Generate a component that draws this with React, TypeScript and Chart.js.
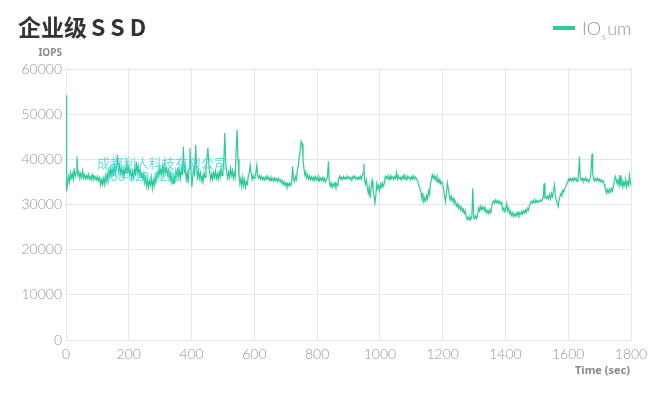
import React, { useEffect, useRef } from 'react';
import { Chart, registerables } from 'chart.js';

Chart.register(...registerables);

const chartTitle = '企业级SSD';
const seriesName = 'IOsum';
const yAxisLabel = 'IOPS';
const xAxisLabel = 'Time (sec)';
const watermarkLine1 = '成都利人科技有限公司';
const watermarkLine2 = '400-028-1255';

const xTickValues = [0, 200, 400, 600, 800, 1000, 1200, 1400, 1600, 1800];
const yTickValues = [0, 10000, 20000, 30000, 40000, 50000, 60000];

const timeSec = [
  0, 2, 5, 8, 11, 14, 17, 20, 23, 26, 29, 32, 35, 38, 41, 44, 47, 50, 53, 56, 59, 62, 65, 68, 71, 74, 77, 80, 83, 86, 89, 92, 95, 98,
  101, 104, 107, 110, 113, 116, 119, 122, 125, 128, 131, 134, 137, 140, 143, 146, 149, 152, 155, 158, 161, 164, 167, 170, 173, 176, 179, 182, 185, 188, 191, 194, 197,
  200, 203, 206, 209, 212, 215, 218, 221, 224, 227, 230, 233, 236, 239, 242, 245, 248, 251, 254, 257, 260, 263, 266, 269, 272, 275, 278, 281, 284, 287, 290, 293, 296, 299,
  302, 305, 308, 311, 314, 317, 320, 323, 326, 329, 332, 335, 338, 341, 344, 347, 350, 353, 356, 359, 362, 365, 368, 371, 374, 377, 380, 383, 386, 389, 392, 395, 398,
  401, 404, 407, 410, 413, 416, 419, 422, 425, 428, 431, 434, 437, 440, 443, 446, 449, 452, 455, 458, 461, 464, 467, 470, 473, 476, 479, 482, 485, 488, 491, 494, 497,
  500, 503, 506, 509, 512, 515, 518, 521, 524, 527, 530, 533, 536, 539, 542, 545, 548, 551, 554, 557, 560, 563, 566, 569, 572, 575, 578, 581, 584, 587, 590, 593, 596, 599,
  602, 605, 608, 611, 614, 617, 620, 623, 626, 629, 632, 635, 638, 641, 644, 647, 650, 653, 656, 659, 662, 665, 668, 671, 674, 677, 680, 683, 686, 689, 692, 695, 698,
  701, 704, 707, 710, 713, 716, 719, 722, 725, 728, 731, 734, 737, 740, 743, 746, 749, 752, 755, 758, 761, 764, 767, 770, 773, 776, 779, 782, 785, 788, 791, 794, 797,
  800, 803, 806, 809, 812, 815, 818, 821, 824, 827, 830, 833, 836, 839, 842, 845, 848, 851, 854, 857, 860, 863, 866, 869, 872, 875, 878, 881, 884, 887, 890, 893, 896, 899,
  902, 905, 908, 911, 914, 917, 920, 923, 926, 929, 932, 935, 938, 941, 944, 947, 949, 951, 954, 957, 960, 963, 966, 969, 972, 975, 978, 981, 984, 987, 990, 993, 996, 999,
  1002, 1005, 1008, 1011, 1014, 1017, 1020, 1023, 1026, 1029, 1032, 1035, 1038, 1041, 1044, 1047, 1050, 1053, 1056, 1059, 1062, 1065, 1068, 1071, 1074, 1077, 1080, 1083, 1086, 1089, 1092, 1095, 1098,
  1101, 1104, 1107, 1110, 1113, 1116, 1119, 1122, 1125, 1128, 1131, 1134, 1137, 1140, 1143, 1146, 1149, 1152, 1155, 1158, 1161, 1164, 1167, 1170, 1173, 1176, 1179, 1182, 1185, 1188, 1191, 1194, 1197,
  1200, 1203, 1206, 1209, 1212, 1215, 1218, 1221, 1224, 1227, 1230, 1233, 1236, 1239, 1242, 1245, 1248, 1251, 1254, 1257, 1260, 1263, 1266, 1269, 1272, 1275, 1278, 1281, 1284, 1287, 1290, 1293, 1296, 1299,
  1302, 1305, 1308, 1311, 1314, 1317, 1320, 1323, 1326, 1329, 1332, 1335, 1338, 1341, 1344, 1347, 1350, 1353, 1356, 1359, 1362, 1365, 1368, 1371, 1374, 1377, 1380, 1383, 1386, 1389, 1392, 1395, 1398,
  1401, 1404, 1407, 1410, 1413, 1416, 1419, 1422, 1425, 1428, 1431, 1434, 1437, 1440, 1443, 1446, 1449, 1452, 1455, 1458, 1461, 1464, 1467, 1470, 1473, 1476, 1479, 1482, 1485, 1488, 1491, 1494, 1497,
  1500, 1503, 1506, 1509, 1512, 1515, 1518, 1521, 1523, 1526, 1529, 1532, 1535, 1538, 1541, 1544, 1547, 1550, 1553, 1556, 1559, 1562, 1565, 1568, 1571, 1574, 1577, 1580, 1583, 1586, 1589, 1592, 1595, 1598,
  1601, 1604, 1607, 1610, 1613, 1616, 1619, 1622, 1625, 1628, 1631, 1634, 1636, 1638, 1641, 1644, 1647, 1650, 1653, 1656, 1659, 1662, 1665, 1668, 1671, 1674, 1676, 1678, 1681, 1684, 1687, 1690, 1693, 1696, 1699,
  1702, 1705, 1708, 1711, 1714, 1717, 1720, 1723, 1726, 1729, 1732, 1735, 1738, 1741, 1744, 1747, 1750, 1753, 1756, 1759, 1762, 1765, 1768, 1771, 1774, 1777, 1780, 1783, 1786, 1789, 1792, 1795, 1798, 1800,
];

const iops = [
  54200, 33000, 34500, 36200, 35000, 37000, 35800, 36800, 35500, 38000, 36200, 37000, 40600, 36500, 37200, 35800, 36900, 36000, 37500, 35900, 36600, 35700, 36400, 35800, 36700, 35600, 36200, 35500, 36600, 35800, 36300, 35600, 36100, 35400,
  36200, 35300, 35900, 34300, 35500, 34500, 35800, 34400, 36300, 35000, 36800, 35200, 37500, 36000, 38200, 36500, 37800, 36200, 39200, 37000, 38500, 41000, 37500, 38800, 36800, 38200, 36500, 37800, 36200, 38000, 36800, 39000, 37200,
  38400, 36500, 37500, 35800, 37300, 36000, 38000, 36400, 39500, 37000, 38500, 36500, 37800, 36000, 37200, 35500, 36800, 34800, 36000, 34000, 35500, 33800, 35200, 34400, 36000, 33600, 35400, 34200, 36300, 35000, 37000, 36200, 38000, 36600,
  37800, 36400, 38500, 36800, 39000, 37200, 38000, 36500, 37600, 35800, 37000, 35000, 36500, 34600, 36200, 35200, 37400, 36000, 38200, 36200, 37500, 35800, 38000, 36500, 42800, 37000, 38500, 35500, 37000, 34800, 38000, 42500, 37500,
  33900, 36500, 38500, 36200, 43200, 38000, 36000, 37500, 35800, 37000, 35200, 36300, 35000, 37000, 36000, 38500, 40000, 42500, 39000, 37000, 35500, 36800, 35600, 37000, 36000, 37400, 35800, 36800, 35600, 37200, 36000, 38000, 36400,
  37500, 40000, 45800, 39000, 37000, 35800, 37200, 36000, 38000, 36400, 37500, 35800, 37000, 36000, 42000, 46500, 40000, 36500, 34500, 35800, 34000, 36000, 34200, 35500, 33800, 35000, 34500, 36500, 37000, 38700, 36800, 35500, 36500, 35800,
  36200, 37000, 38700, 36200, 35800, 36400, 35600, 36200, 35500, 36000, 35400, 36100, 35600, 36300, 35500, 35900, 35300, 36000, 35400, 35800, 35200, 35900, 35300, 35700, 35100, 35800, 35200, 35500, 34800, 35300, 34400, 35000, 34200,
  34800, 34000, 34600, 34100, 34700, 34200, 35000, 38400, 35500, 35000, 36200, 35500, 37500, 38500, 40500, 42000, 44000, 43500, 40000, 38000, 36500, 37200, 35800, 36500, 35600, 36300, 35500, 36100, 35400, 36000, 35300, 36200, 35500,
  36000, 35200, 36100, 35400, 35900, 35300, 36000, 35200, 35800, 35000, 35600, 36000, 39500, 35000, 34000, 34800, 33800, 34600, 34000, 34800, 33900, 34500, 34200, 35800, 36300, 35600, 36000, 35500, 36200, 35700, 36000, 35600, 36300, 35800,
  36100, 35500, 36000, 35600, 36200, 35800, 36300, 35700, 36000, 35500, 36100, 35700, 36200, 35600, 36400, 37000, 39100, 35500, 34500, 35500, 33600, 32500, 34000, 31400, 33500, 35300, 33500, 32000, 30300, 32000, 34600, 33500, 34200, 33000,
  34500, 33800, 34800, 34000, 34600, 36200, 35800, 36300, 35600, 36200, 35500, 36400, 35700, 36100, 35500, 36200, 35800, 37100, 35600, 36300, 35700, 36000, 35400, 36200, 35700, 36500, 35600, 36100, 35500, 36300, 35800, 36000, 35400,
  36200, 35700, 36300, 35600, 36100, 35800, 35400, 34800, 34000, 33500, 32500, 31500, 32300, 30600, 31500, 30800, 32000, 31200, 33000, 32200, 34500, 35500, 36600, 35800, 36400, 35500, 36200, 35000, 35800, 34800, 35500, 34600, 35000,
  34300, 33500, 31800, 30600, 32500, 34800, 33500, 32200, 31000, 31800, 30800, 31400, 30500, 30900, 30200, 29600, 30200, 29200, 29700, 28800, 29400, 28500, 29000, 28000, 28600, 27500, 26700, 27200, 26600, 27300, 26800, 27400, 33600, 27000,
  26800, 27500, 26900, 27600, 29200, 28600, 29600, 28800, 29500, 28900, 29400, 28400, 28900, 28100, 28700, 28000, 28800, 28200, 29300, 30400, 30800, 30300, 31000, 30400, 30900, 30300, 30800, 30200, 30500, 29600, 28600, 29200, 28400,
  29000, 30200, 28600, 29200, 28000, 28500, 27600, 28200, 27300, 27900, 27400, 28100, 27500, 28300, 27600, 28200, 27800, 28500, 27900, 28600, 28100, 28800, 28300, 29200, 28700, 29600, 30200, 30700, 30300, 30900, 30400, 31000, 30500,
  30900, 30400, 30800, 30600, 31000, 30700, 31200, 31600, 34700, 31500, 31800, 31300, 31900, 31200, 32200, 31300, 32500, 31800, 33000, 34300, 32000, 31000, 30200, 29500, 31000, 31800, 32500, 32000, 33200, 32800, 33500, 33800, 34500, 35000,
  35600, 35200, 35800, 35300, 35700, 35200, 35900, 35400, 35800, 35100, 35600, 38000, 40600, 36000, 35400, 35800, 35200, 35700, 35300, 35900, 35200, 35600, 35000, 35500, 36000, 39000, 41300, 37000, 35600, 35200, 35700, 35300, 35800, 35200, 35600,
  35100, 35500, 35000, 35300, 34500, 33800, 33200, 32500, 33300, 32600, 33400, 32800, 33600, 33000, 34000, 35200, 36200, 35500, 34500, 35500, 34200, 36500, 34000, 35200, 33800, 35000, 34200, 35600, 33900, 35000, 34300, 36500, 34600, 35200,
];

const lineColor = '#2dc997';
const tickColor = '#959595';
const gridColor = '#e6e6e6';

export default function App() {
  const canvasRef = useRef<HTMLCanvasElement>(null);

  useEffect(() => {
    if (!canvasRef.current) return;

    const overlay = {
      id: 'overlay',
      afterDraw(chart: any) {
        const ctx = chart.ctx as CanvasRenderingContext2D;
        ctx.save();
        // Title
        ctx.fillStyle = '#333333';
        ctx.textBaseline = 'middle';
        ctx.textAlign = 'left';
        ctx.font = 'bold 23px "Noto Sans CJK SC"';
        ctx.fillText('企业级', 18, 27);
        let x = 18 + ctx.measureText('企业级').width + 4;
        for (const ch of chartTitle.replace('企业级', '')) {
          ctx.fillText(ch, x, 27);
          x += ctx.measureText(ch).width + 5;
        }
        // Legend
        ctx.strokeStyle = lineColor;
        ctx.lineWidth = 4;
        ctx.beginPath();
        ctx.moveTo(553, 28);
        ctx.lineTo(575, 28);
        ctx.stroke();
        ctx.fillStyle = '#959595';
        ctx.textBaseline = 'alphabetic';
        ctx.font = '300 18px Lato';
        const base = seriesName.slice(0, 2);
        const sub = seriesName.slice(2, 3);
        const rest = seriesName.slice(3);
        ctx.fillText(base, 582, 35);
        let lx = 582 + ctx.measureText(base).width + 1;
        ctx.font = '300 10px Lato';
        ctx.fillText(sub, lx, 40);
        lx += ctx.measureText(sub).width + 1;
        ctx.font = '300 18px Lato';
        ctx.fillText(rest, lx, 35);
        // Axis labels
        ctx.fillStyle = '#8a8a8a';
        ctx.font = 'bold 10px "Noto Sans"';
        ctx.textAlign = 'right';
        ctx.textBaseline = 'middle';
        ctx.fillText(yAxisLabel, 62, 53);
        ctx.font = 'bold 11px "Noto Sans"';
        ctx.fillText(xAxisLabel, 630, 371);
        // Watermark
        ctx.globalAlpha = 0.85;
        ctx.fillStyle = '#3fdcec';
        ctx.textAlign = 'left';
        ctx.font = '13px "Noto Sans CJK SC"';
        ctx.fillText(watermarkLine1, 97, 163);
        ctx.font = '12px "Noto Sans"';
        ctx.fillText(watermarkLine2, 104, 178);
        ctx.restore();
      },
    };

    const chart = new Chart(canvasRef.current, {
      type: 'line',
      data: {
        datasets: [
          {
            label: seriesName,
            data: timeSec.map((t, i) => ({ x: t, y: iops[i] })),
            borderColor: lineColor,
            backgroundColor: lineColor,
            borderWidth: 1.2,
            pointRadius: 0,
            tension: 0,
            fill: false,
          },
        ],
      },
      options: {
        responsive: false,
        animation: false,
        layout: { padding: { left: 0, right: 29, top: 69, bottom: 0 } },
        plugins: { legend: { display: false }, tooltip: { enabled: false }, title: { display: false } },
        scales: {
          x: {
            type: 'linear',
            min: 0,
            max: 1800,
            afterBuildTicks: (scale: any) => {
              scale.ticks = xTickValues.map((v) => ({ value: v }));
            },
            afterFit: (scale: any) => {
              scale.height = 57;
            },
            grid: { color: gridColor, drawTicks: false },
            border: { color: gridColor },
            ticks: {
              color: tickColor,
              font: { family: 'Lato', size: 14, weight: '300' },
              padding: 6,
              maxRotation: 0,
              autoSkip: false,
              callback: (v: any) => String(v),
            },
          },
          y: {
            min: 0,
            max: 60000,
            afterBuildTicks: (scale: any) => {
              scale.ticks = yTickValues.map((v) => ({ value: v }));
            },
            afterFit: (scale: any) => {
              scale.width = 66;
            },
            grid: { color: gridColor, drawTicks: false },
            border: { color: gridColor },
            ticks: {
              color: tickColor,
              font: { family: 'Lato', size: 14, weight: '300' },
              padding: 4,
              autoSkip: false,
              callback: (v: any) => String(v),
            },
          },
        },
      },
      plugins: [overlay],
    });

    return () => chart.destroy();
  }, []);

  return (
    <div style={{ position: 'absolute', left: 0, top: 0, width: 660, height: 397, background: '#fff' }}>
      <canvas ref={canvasRef} width={660} height={397} style={{ display: 'block', width: 660, height: 397 }} />
    </div>
  );
}
